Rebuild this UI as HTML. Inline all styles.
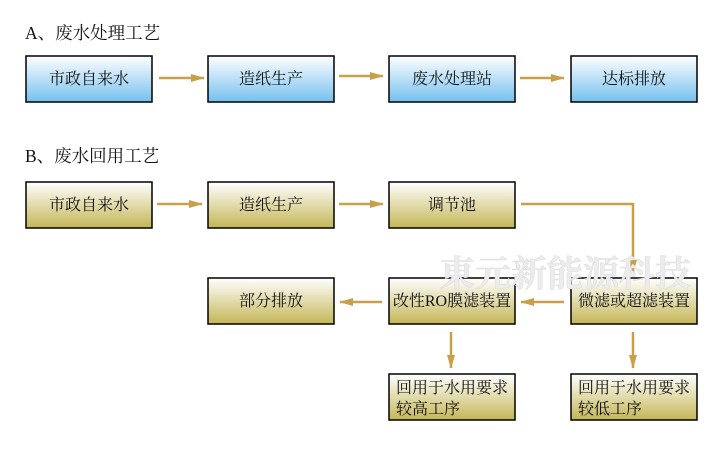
<!DOCTYPE html>
<html><head><meta charset="utf-8"><style>
html,body{margin:0;padding:0;background:#fff}
svg{display:block}
text{font-family:"Liberation Serif","Noto Serif CJK SC",serif;fill:#111}
</style></head><body>
<svg width="720" height="451" viewBox="0 0 720 451" xmlns="http://www.w3.org/2000/svg">
<defs>
<linearGradient id="bl" x1="0" y1="0" x2="0" y2="1"><stop offset="0" stop-color="#ffffff"/><stop offset="1" stop-color="#74c0ee"/></linearGradient>
<linearGradient id="yl" x1="0" y1="0" x2="0" y2="1"><stop offset="0" stop-color="#ffffff"/><stop offset="1" stop-color="#c4b656"/></linearGradient>
<marker id="ah" markerWidth="14" markerHeight="8" refX="13" refY="4" orient="auto" markerUnits="userSpaceOnUse"><path d="M0,0 L14,4 L0,8 Z" fill="#c9a04a"/></marker>
</defs>
<text x="25" y="39" font-size="17.5">A、废水处理工艺</text>
<text x="25" y="162" font-size="17.5">B、废水回用工艺</text>

<g stroke="#000" stroke-width="1.5">
<rect x="26" y="56" width="126" height="46" fill="url(#bl)"/>
<rect x="208" y="56" width="126" height="46" fill="url(#bl)"/>
<rect x="389" y="56" width="126" height="46" fill="url(#bl)"/>
<rect x="571" y="56" width="126" height="46" fill="url(#bl)"/>
<rect x="26" y="182" width="126" height="46" fill="url(#yl)"/>
<rect x="208" y="182" width="126" height="46" fill="url(#yl)"/>
<rect x="389" y="182" width="126" height="46" fill="url(#yl)"/>
<rect x="208" y="278" width="126" height="46" fill="url(#yl)"/>
<rect x="389" y="278" width="126" height="46" fill="url(#yl)"/>
<rect x="571" y="278" width="126" height="46" fill="url(#yl)"/>
<rect x="389" y="374" width="126" height="46" fill="url(#yl)"/>
<rect x="571" y="374" width="126" height="46" fill="url(#yl)"/>
</g>

<g stroke="#c9a04a" stroke-width="2.5" fill="none" marker-end="url(#ah)">
<line x1="159" y1="78" x2="204" y2="78"/>
<line x1="339" y1="76" x2="383" y2="76"/>
<line x1="520" y1="78" x2="564" y2="78"/>
<line x1="157" y1="204" x2="202" y2="204"/>
<line x1="339" y1="204" x2="383" y2="204"/>
<polyline points="521,204 633,204 633,273"/>
<line x1="564" y1="302" x2="521" y2="302"/>
<line x1="382" y1="302" x2="340" y2="302"/>
<line x1="451" y1="332" x2="451" y2="368"/>
<line x1="633" y1="332" x2="633" y2="368"/>
</g>

<text x="439" y="286" font-size="36" font-weight="bold" style="fill:#ececec" stroke="#dcdcdc" stroke-width="0.5">東元新能源科技</text>

<g font-size="16" text-anchor="middle">
<text x="89" y="84">市政自来水</text>
<text x="271" y="84">造纸生产</text>
<text x="452" y="84">废水处理站</text>
<text x="634" y="84">达标排放</text>
<text x="89" y="210">市政自来水</text>
<text x="271" y="210">造纸生产</text>
<text x="452" y="210">调节池</text>
<text x="271" y="306">部分排放</text>
<text x="452" y="306">改性RO膜滤装置</text>
<text x="634" y="306">微滤或超滤装置</text>
</g>
<g font-size="16">
<text x="396" y="393">回用于水用要求</text>
<text x="396" y="414">较高工序</text>
<text x="578" y="393">回用于水用要求</text>
<text x="578" y="414">较低工序</text>
</g>
</svg>
</body></html>
